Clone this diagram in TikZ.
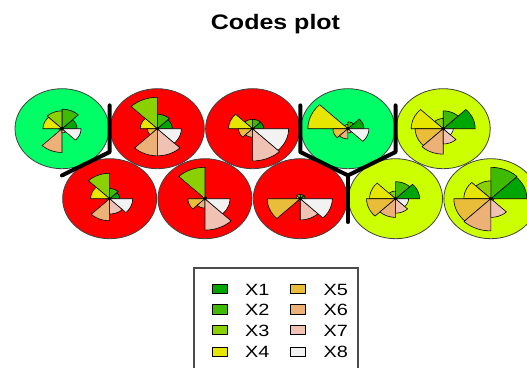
\documentclass[tikz,border=0pt]{standalone}
\usepackage{fontspec}
\setmainfont{Liberation Sans}
\definecolor{c1}{HTML}{00A600}
\definecolor{c2}{HTML}{3EBB00}
\definecolor{c3}{HTML}{8BD000}
\definecolor{c4}{HTML}{E6E600}
\definecolor{c5}{HTML}{E9BD3A}
\definecolor{c6}{HTML}{ECB176}
\definecolor{c7}{HTML}{EFC2B3}
\definecolor{c8}{HTML}{F2F2F2}
\definecolor{bgG}{HTML}{00FF66}
\definecolor{bgR}{HTML}{FF0000}
\definecolor{bgY}{HTML}{CCFF00}
\tikzset{
  cellcirc/.style={draw=black!75, line width=0.8pt},
  segm/.style={draw=black, line width=0.6pt},
  boundary/.style={line width=4pt, line cap=round, line join=round, draw=black},
  legsq/.style={draw=black, line width=0.6pt, minimum width=14.5pt, minimum height=9.5pt, inner sep=0pt},
  legtxt/.style={anchor=base west, inner sep=0pt, font=\fontsize{16.3}{18}\selectfont}
}
\newcommand\cellfan[3]{%
  \foreach \rr [count=\ii] in {#3} {%
    \pgfmathsetmacro\aa{(\ii-1)*45}%
    \pgfmathsetmacro\bb{\ii*45}%
    \filldraw[segm, fill=c\ii] (#1,#2) -- plot[domain=\aa:\bb, samples=14] ({#1+\rr*cos(\x)},{#2-0.848*\rr*sin(\x)}) -- cycle;
  }%
  \fill[black] (#1,#2) circle (1.8pt);
}
\begin{document}
\begin{tikzpicture}[x=1pt,y=-1pt]
\useasboundingbox (0,0) rectangle (527,367);
\clip (0,0) rectangle (527,367);
\fill[white] (0,0) rectangle (527,367);
% cell circles, top row
\filldraw[cellcirc, fill=bgG] (62,128.7) ellipse [x radius=47pt, y radius=40pt];
\filldraw[cellcirc, fill=bgR] (157.3,128.7) ellipse [x radius=47pt, y radius=40pt];
\filldraw[cellcirc, fill=bgR] (252.6,128.7) ellipse [x radius=47pt, y radius=40pt];
\filldraw[cellcirc, fill=bgG] (347.9,128.7) ellipse [x radius=47pt, y radius=40pt];
\filldraw[cellcirc, fill=bgY] (443.2,128.7) ellipse [x radius=47pt, y radius=40pt];
% bottom row
\filldraw[cellcirc, fill=bgR] (109.65,198.7) ellipse [x radius=47pt, y radius=40pt];
\filldraw[cellcirc, fill=bgR] (204.95,198.7) ellipse [x radius=47pt, y radius=40pt];
\filldraw[cellcirc, fill=bgR] (300.25,198.7) ellipse [x radius=47pt, y radius=40pt];
\filldraw[cellcirc, fill=bgY] (395.55,198.7) ellipse [x radius=47pt, y radius=40pt];
\filldraw[cellcirc, fill=bgY] (490.85,198.7) ellipse [x radius=47pt, y radius=40pt];
% fans
\cellfan{62}{128.7}{15,23,21,19,3,28,5,19}
\cellfan{157.3}{128.7}{15,17,37,17,10,32,32,24}
\cellfan{252.6}{128.7}{11,11,11,24,14,10,38,36}
\cellfan{347.9}{128.7}{16,8,5,40,15,12,5,21}
\cellfan{443.2}{128.7}{32,21,12,32,28,30,18,10}
\cellfan{109.65}{198.7}{10,12,30,19,3,26,18,23}
\cellfan{204.95}{198.7}{2,2,37,2,17,11,37,25}
\cellfan{300.25}{198.7}{5,5,5,4,33,3,25,32}
\cellfan{395.55}{198.7}{24,20,9,26,29,22,17,13}
\cellfan{490.85}{198.7}{36,37,21,27,37,38,22,3}
% cluster boundaries
\coordinate (b1) at (109.65,105.4);
\coordinate (b2) at (109.65,152.0);
\coordinate (b3) at (62,175.4);
\coordinate (b4) at (300.25,105.4);
\coordinate (b5) at (300.25,152.0);
\coordinate (b6) at (347.9,175.4);
\coordinate (b7) at (395.55,152.0);
\coordinate (b8) at (395.55,105.4);
\coordinate (b9) at (347.9,222.0);
\draw[boundary] (b1) -- (b2) -- (b3);
\draw[boundary] (b4) -- (b5) -- (b6) -- (b7) -- (b8);
\draw[boundary] (b6) -- (b9);
% title
\node[anchor=base, inner sep=0pt, font=\fontsize{21}{24}\bfseries] (title) at (275.5,29.3) {\scalebox{1.19}[1]{Codes plot}};
% legend
\draw[draw=black!70, line width=1.2pt, fill=white] (194,268) rectangle (358,380);
\node[legsq, fill=c1] (s1) at (219.7,289) {};
\node[legsq, fill=c2] (s2) at (219.7,309.3) {};
\node[legsq, fill=c3] (s3) at (219.7,330) {};
\node[legsq, fill=c4] (s4) at (219.7,351.7) {};
\node[legsq, fill=c5] (s5) at (297.8,289) {};
\node[legsq, fill=c6] (s6) at (297.8,309.3) {};
\node[legsq, fill=c7] (s7) at (297.8,330) {};
\node[legsq, fill=c8] (s8) at (297.8,351.7) {};
\node[legtxt] (t1) at (245,295) {\scalebox{1.22}[1]{X1}};
\node[legtxt] (t2) at (245,315.3) {\scalebox{1.22}[1]{X2}};
\node[legtxt] (t3) at (245,336) {\scalebox{1.22}[1]{X3}};
\node[legtxt] (t4) at (245,357.7) {\scalebox{1.22}[1]{X4}};
\node[legtxt] (t5) at (323.3,295) {\scalebox{1.22}[1]{X5}};
\node[legtxt] (t6) at (323.3,315.3) {\scalebox{1.22}[1]{X6}};
\node[legtxt] (t7) at (323.3,336) {\scalebox{1.22}[1]{X7}};
\node[legtxt] (t8) at (323.3,357.7) {\scalebox{1.22}[1]{X8}};
\end{tikzpicture}
\end{document}
